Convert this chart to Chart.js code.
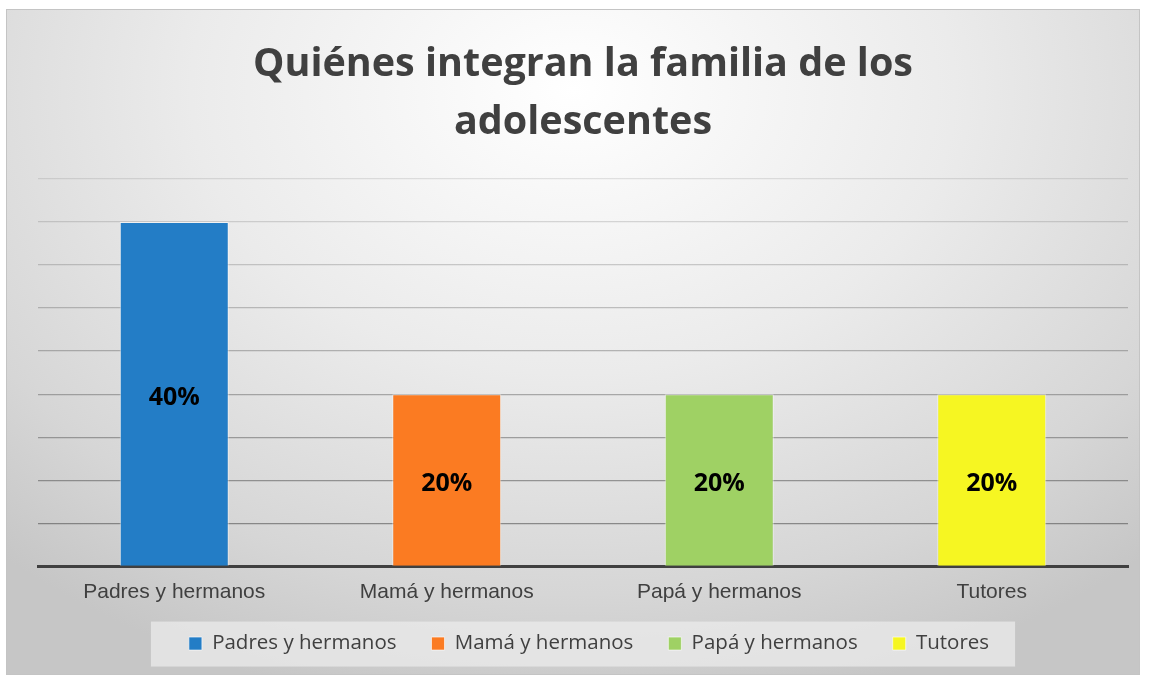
<!DOCTYPE html>
<html>
<head>
<meta charset="utf-8">
<script src="https://cdn.jsdelivr.net/npm/chart.js@4.4.0/dist/chart.umd.min.js"></script>
<style>
  html, body { margin: 0; padding: 0; background: #fff; }
  #wrap {
    position: absolute; left: 6px; top: 9px; width: 1134px; height: 666px;
    box-sizing: border-box; border: 1px solid #c4c4c4;
    background: radial-gradient(ellipse 75% 95% at 50% 12%, #ffffff 0%, #ebebeb 45%, #d6d6d6 80%, #c6c6c6 100%);
  }
  canvas { display: block; }
</style>
</head>
<body>
<div id="wrap"><canvas id="myChart" width="1132" height="664"></canvas></div>
<script>
var categorias = ['Padres y hermanos', 'Mamá y hermanos', 'Papá y hermanos', 'Tutores']
var porcentajes = [40, 20, 20, 20]
var colores = ['#237dc6', '#fb7b22', '#9fd164', '#f6f622']
var titulo = ['Quiénes integran la familia de los', 'adolescentes']
var ejeMax = 45
var ejePaso = 5

// etiquetas de datos en el centro de cada barra
var etiquetas = {
    id: 'etiquetas',
    afterDatasetsDraw: function (chart) {
        var ctx = chart.ctx
        var meta = chart.getDatasetMeta(0)
        ctx.save()
        ctx.font = 'bold 25px "Open Sans"'
        ctx.fillStyle = '#000'
        ctx.textAlign = 'center'
        ctx.textBaseline = 'middle'
        meta.data.forEach(function (bar, i) {
            var y = (bar.y + bar.base) / 2 + 4
            ctx.fillText(porcentajes[i] + '%', bar.x, y)
        })
        ctx.restore()
    }
}

// subir la leyenda y dibujar la caja gris detras
var cajaLeyenda = {
    id: 'cajaLeyenda',
    afterLayout: function (chart) {
        var lg = chart.legend
        var d = lg.top - (chart.scales.x.top + 32)
        lg.top -= d
        lg.bottom -= d
        lg.left += 6
        lg.right += 6
    },
    beforeDraw: function (chart) {
        var lg = chart.legend
        if (!lg || !lg.legendHitBoxes.length) return
        var hb = lg.legendHitBoxes
        var left = hb[0].left - 38
        var right = hb[hb.length - 1].left + hb[hb.length - 1].width + 26
        var top = hb[0].top + hb[0].height / 2 - 22
        var ctx = chart.ctx
        ctx.save()
        ctx.fillStyle = 'rgba(235,235,235,0.75)'
        ctx.fillRect(left, top, right - left, 45)
        ctx.restore()
    }
}

var ctx = document.getElementById('myChart').getContext('2d')
var myChart = new Chart(ctx, {
    type: 'bar',
    data: {
        labels: categorias,
        datasets: [{
            data: porcentajes,
            backgroundColor: colores,
            borderColor: 'rgba(255,255,255,0.55)',
            borderWidth: 1,
            barPercentage: 0.4,
            categoryPercentage: 1
        }]
    },
    options: {
        responsive: false,
        animation: false,
        layout: { padding: { left: 31, right: 11, top: 0, bottom: -9 } },
        scales: {
            x: {
                grid: { display: false, drawTicks: false },
                border: { color: '#404040', width: 3 },
                ticks: {
                    color: '#404040',
                    font: { family: '"Liberation Sans", Arial', size: 21 },
                    padding: 13
                }
            },
            y: {
                min: 0,
                max: ejeMax,
                z: 1,
                ticks: { display: false, stepSize: ejePaso },
                border: { display: false },
                grid: {
                    drawTicks: false,
                    lineWidth: 1.3,
                    color: function (c) {
                        if (c.tick && c.tick.value === 0) return 'rgba(0,0,0,0)'
                        var t = c.index / 9
                        return 'rgba(80,80,80,' + (0.65 - t * 0.5) + ')'
                    }
                }
            }
        },
        plugins: {
            title: {
                display: true,
                text: titulo,
                color: '#404040',
                font: { family: '"Open Sans"', size: 39.5, weight: 'bold', lineHeight: 1.468 },
                padding: { top: 26, bottom: 27 }
            },
            legend: {
                position: 'bottom',
                labels: {
                    boxWidth: 13,
                    boxHeight: 13,
                    padding: 35,
                    color: '#404040',
                    font: { family: '"Open Sans"', size: 20.5 },
                    generateLabels: function (chart) {
                        return categorias.map(function (c, i) {
                            return {
                                text: c,
                                fillStyle: colores[i],
                                strokeStyle: 'rgba(255,255,255,0.6)',
                                lineWidth: 1,
                                fontColor: '#404040',
                                index: i,
                                datasetIndex: 0
                            }
                        })
                    }
                }
            },
            tooltip: { enabled: false }
        }
    },
    plugins: [etiquetas, cajaLeyenda]
});
</script>
</body>
</html>
